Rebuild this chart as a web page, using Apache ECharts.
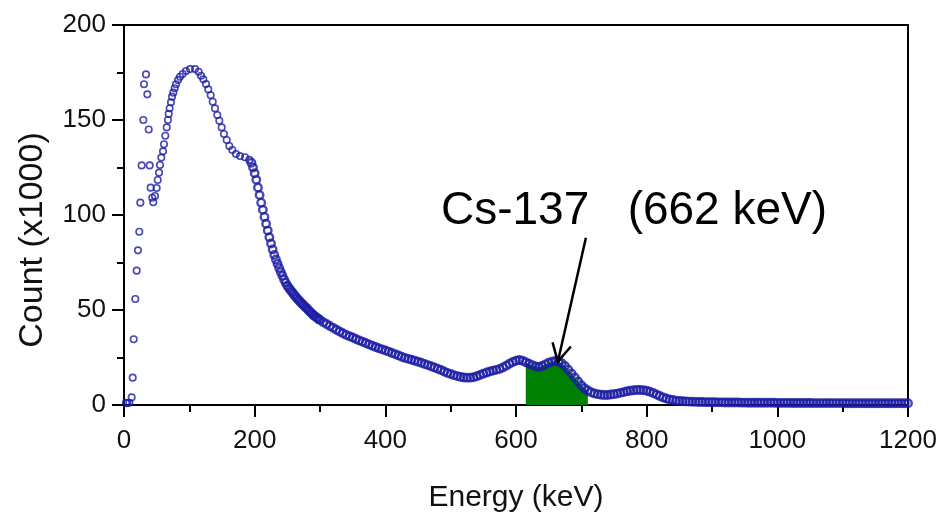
<!DOCTYPE html>
<html>
<head>
<meta charset="utf-8">
<script src="https://cdn.jsdelivr.net/npm/echarts@6/dist/echarts.min.js"></script>
<style>
html,body{margin:0;padding:0;background:#fff;}
#c{width:942px;height:519px;}
</style>
</head>
<body>
<div id="c"></div>
<script>
// ---- data ----
// sparse low-energy channels (keV, counts x1000)
const earlyEnergy = [3,5,8,11.7,13.3,14.8,17.3,19.4,21.4,23.4,25,27,29.6,30.6,33.7,35.7,37.8,39.3,40.8,43.3,44.8,47.4,50,51.6,53.6,55.1,57.1,59.7,61.2,63.2,65.4,67.3,68.4,69.9,71.9,73.5,75.5,77.6,79.6,82.7,85.7,89.8,94.9,101,108.7,114.3,117.9,121.4,125.5,129,132.7,135.8,139.3,142.8,145.9,149.5,153,157.2,161.2,165.8,171.4,177.5,185.2,191.8];
const earlyCount  = [1.2,1.0,1.2,4,14.4,34.6,55.8,70.7,81.4,91.2,106.5,126.1,150,168.8,174,163.5,145,126.1,114.4,109.1,106.7,110,114.2,118.4,122.3,126.3,130.2,133.5,137.2,141.7,146.1,150,153.2,156.2,159.3,162.3,164.4,166.7,168.8,171,172.8,174.2,175.8,176.8,176.8,175.4,173.3,171.4,168.9,166.1,163,159.6,156.1,152.6,149.6,146.1,142.6,139.5,136.3,134.2,132.1,131,130.4,129];

// steep Compton edge region: 195 .. 300 keV, 2.5 keV sampling
const steepStart = 195, steepStep = 2.5;
const steepCount = [127.5,125,122,118.5,114.5,110.5,106.5,102.7,99,95.4,91.8,88.3,85,81.9,79,76.6,74.3,72.1,70,68,66,64.4,62.8,61.6,60.4,59.3,58.2,57.1,56,55.1,54.2,53.3,52.5,51.6,50.8,49.9,49,48.1,47.3,46.6,46,45.3,44.7];

// remaining spectrum: 305 .. 1200 keV, 5 keV sampling
const tailStart = 305, tailStep = 5;
const tailCount = [
  43.6,42.6,41.6,40.6,39.6,38.7,37.8,36.9,36.2,35.5,34.7,34.0,33.3,32.6,31.9,31.2,30.5,29.9,29.3,28.7,
  28.1,27.4,26.8,26.1,25.4,24.8,24.3,23.8,23.3,22.8,22.2,21.6,21.0,20.4,19.8,19.1,18.4,17.6,16.9,16.3,
  15.7,15.2,14.8,14.5,14.4,14.4,14.6,15.1,15.8,16.5,17.1,17.6,18.1,18.5,19.0,19.8,20.7,21.7,22.6,23.3,
  23.7,23.3,22.5,21.7,21.0,20.3,20.0,20.5,21.4,22.2,22.8,23.2,22.9,22.0,20.5,18.6,16.6,14.5,12.4,10.4,
  8.8,7.6,6.7,6.1,5.7,5.4,5.3,5.3,5.5,5.7,6.0,6.4,6.8,7.2,7.5,7.8,7.9,7.9,7.8,7.5,
  7.0,6.3,5.5,4.7,4.0,3.4,2.9,2.6,2.3,2.1,2.0,1.9,1.8,1.7,1.65,1.6,1.55,1.5,1.5,1.45,
  1.45,1.4,1.4,1.35,1.35,1.3,1.3,1.3,1.25,1.25,
  1.2,1.2,1.2,1.2,1.2,1.15,1.15,1.15,1.15,1.1,
  1.1,1.1,1.1,1.1,1.05,1.05,1.05,1.05,1.05,1.05,
  1.0,1.0,1.0,1.0,1.0,1.0,1.0,1.0,1.0,1.0,
  0.95,0.95,0.95,0.95,0.95,0.95,0.95,0.95,0.95,0.95,
  0.9,0.9,0.9,0.9,0.9,0.9,0.9,0.9,0.9,0.9
];

// shaded photopeak window (keV)
const peakWindow = [613, 713];

// annotation
const annotationText = 'Cs-137   (662 keV)';
const arrowTip  = [664, 22.8];   // data coords (keV, counts x1000)
const arrowTail = [707, 88];

// axes
const xRange = [0, 1200], xInterval = 200;
const yRange = [0, 200], yInterval = 50;
const xName = 'Energy (keV)';
const yName = 'Count (x1000)';

// ---- build series points ----
const sparsePoints = [];
earlyEnergy.forEach((e, i) => sparsePoints.push([e, earlyCount[i]]));
const densePoints = [];
steepCount.forEach((c, i) => densePoints.push([steepStart + i * steepStep, c]));
tailCount.forEach((c, i) => densePoints.push([tailStart + i * tailStep, c]));
const peakPoints = densePoints.filter(p => p[0] >= peakWindow[0] && p[0] <= peakWindow[1]);

const tickFont = "'Liberation Sans', Arial, sans-serif";
const nameFont = "'Liberation Sans', Arial, sans-serif";
const blue = '#1c1ca4';

const chart = echarts.init(document.getElementById('c'), null, {renderer: 'canvas'});

const axisCommon = {
  type: 'value',
  nameLocation: 'middle',
  nameTextStyle: {fontSize: 30, color: '#111', fontFamily: nameFont},
  axisLine: {show: true, lineStyle: {color: '#000', width: 2}},
  axisTick: {show: true, length: 12, lineStyle: {color: '#000', width: 2}},
  minorTick: {show: true, splitNumber: 2, length: 7, lineStyle: {color: '#000', width: 2}},
  splitLine: {show: false},
  minorSplitLine: {show: false},
  axisLabel: {fontSize: 26, color: '#111', fontFamily: tickFont, formatter: v => String(v)}
};

chart.setOption({
  animation: false,
  backgroundColor: '#fff',
  grid: {left: 124, right: 34, top: 25, bottom: 114, show: true, borderColor: '#000', borderWidth: 2, backgroundColor: 'transparent'},
  xAxis: Object.assign({}, axisCommon, {
    min: xRange[0], max: xRange[1], interval: xInterval,
    name: xName, nameGap: 78,
    axisLabel: Object.assign({}, axisCommon.axisLabel, {margin: 23})
  }),
  yAxis: Object.assign({}, axisCommon, {
    min: yRange[0], max: yRange[1], interval: yInterval,
    name: '',
    axisLabel: Object.assign({}, axisCommon.axisLabel, {margin: 18})
  }),
  series: [
    {
      type: 'line',
      data: peakPoints,
      symbol: 'none',
      lineStyle: {width: 0},
      areaStyle: {color: '#008000', opacity: 1},
      z: 1,
      silent: true
    },
    {
      type: 'scatter',
      data: sparsePoints,
      symbol: 'circle',
      symbolSize: 6.5,
      itemStyle: {color: 'rgba(255,255,255,0)', borderColor: blue, borderWidth: 1.6},
      z: 3,
      silent: true
    },
    {
      type: 'scatter',
      data: densePoints,
      symbol: 'circle',
      symbolSize: 7.5,
      itemStyle: {color: 'rgba(255,255,255,0)', borderColor: blue, borderWidth: 2.4},
      z: 3,
      silent: true
    }
  ]
});

// arrow + labels
const tip = chart.convertToPixel({gridIndex: 0}, arrowTip);
const tail = chart.convertToPixel({gridIndex: 0}, arrowTail);
const dx = tail[0] - tip[0], dy = tail[1] - tip[1];
const len = Math.sqrt(dx * dx + dy * dy);
const ux = dx / len, uy = dy / len;
const armLen = 20, ang = 28 * Math.PI / 180;
function rot(x, y, a) { return [x * Math.cos(a) - y * Math.sin(a), x * Math.sin(a) + y * Math.cos(a)]; }
const a1 = rot(ux, uy, ang), a2 = rot(ux, uy, -ang);

chart.setOption({
  graphic: [
    {type: 'line', shape: {x1: tail[0], y1: tail[1], x2: tip[0], y2: tip[1]}, style: {stroke: '#000', lineWidth: 2.5}, z: 10},
    {type: 'polyline', shape: {points: [[tip[0] + a1[0] * armLen, tip[1] + a1[1] * armLen], tip, [tip[0] + a2[0] * armLen, tip[1] + a2[1] * armLen]]}, style: {stroke: '#000', lineWidth: 2.5, fill: null}, z: 10},
    {type: 'text', x: 441, y: 211, style: {text: annotationText, font: "46px 'Liberation Sans', Arial, sans-serif", fill: '#000', textAlign: 'left', textVerticalAlign: 'middle', align: 'left', verticalAlign: 'middle'}, z: 10},
    {type: 'text', x: 33, y: 240, rotation: Math.PI / 2, style: {text: yName, font: "34px 'Liberation Sans', Arial, sans-serif", fill: '#111', textAlign: 'center', textVerticalAlign: 'middle', align: 'center', verticalAlign: 'middle'}, z: 10}
  ]
});
</script>
</body>
</html>
